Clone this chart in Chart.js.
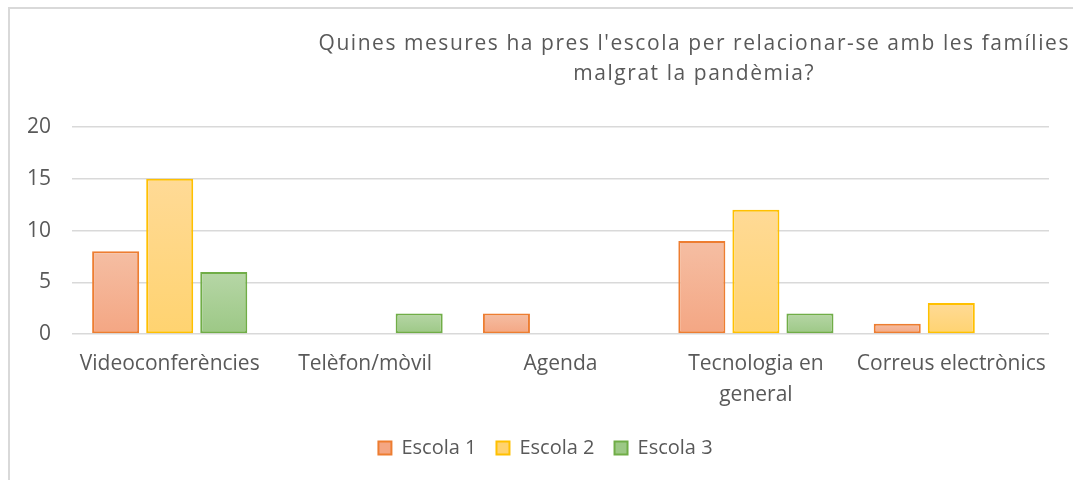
<!DOCTYPE html>
<html>
<head>
<meta charset="utf-8">
<script src="https://cdn.jsdelivr.net/npm/chart.js@4.4.0/dist/chart.umd.min.js"></script>
<style>
  html, body { margin: 0; padding: 0; background: #fff; overflow: hidden; }
  #frame { position: absolute; left: 8px; top: 7px; width: 1100px; height: 500px; border: 2px solid #d9d9d9; box-sizing: border-box; }
  #wrap { position: absolute; left: 0; top: 0; width: 1073px; height: 480px; }
</style>
</head>
<body>
<div id="frame"></div>
<div id="wrap"><canvas id="chart"></canvas></div>
<script>
// Chart data
var categories = ['Videoconferències', 'Telèfon/mòvil', 'Agenda', ['Tecnologia en', 'general'], 'Correus electrònics'];
var escola1 = [8, 0, 2, 9, 1];
var escola2 = [15, 0, 0, 12, 3];
var escola3 = [6, 2, 0, 2, 0];
var yTicks = [0, 5, 10, 15, 20];
var titleLines = ["Quines mesures ha pres l'escola per relacionar-se amb les famílies", 'malgrat la pandèmia?'];

var textColor = '#595959';
var fontFamily = '"Open Sans", "DejaVu Sans", sans-serif';

// per bar gradient, lighter on top
function barGradient(topColor, bottomColor, fallback) {
    return function(ctx) {
        var chart = ctx.chart;
        if (!chart.chartArea || ctx.raw == null) return fallback;
        var y = chart.scales.y;
        var top = y.getPixelForValue(ctx.raw);
        var bottom = y.getPixelForValue(0);
        if (!isFinite(top) || top === bottom) return fallback;
        var g = chart.ctx.createLinearGradient(0, top, 0, bottom);
        g.addColorStop(0, topColor);
        g.addColorStop(1, bottomColor);
        return g;
    };
}

// title drawn off-centre like the original
var titlePlugin = {
    id: 'offTitle',
    afterDraw: function(chart) {
        var c = chart.ctx;
        c.save();
        c.font = '21px ' + fontFamily;
        c.letterSpacing = '1.55px';
        c.fillStyle = textColor;
        c.textAlign = 'center';
        c.textBaseline = 'middle';
        var cx = chart.width * 0.647;
        c.fillText(titleLines[0], cx, 44);
        c.fillText(titleLines[1], cx, 74);
        c.restore();
    }
};

// nudge the legend a bit right and up, the original is not centred on the canvas
var legendShift = {
    id: 'legendShift',
    afterLayout: function(chart) {
        var lg = chart.legend;
        if (!lg) return;
        lg.left += 21; lg.right += 21;
        lg.top -= 7; lg.bottom -= 7;
    }
};

var ctx = document.getElementById('chart').getContext('2d');
new Chart(ctx, {
    type: 'bar',
    data: {
        labels: categories,
        datasets: [
            { label: 'Escola 1', data: escola1, borderColor: '#ED7D31', backgroundColor: barGradient('#F5BEA3', '#F4A683', '#F5B293') },
            { label: 'Escola 2', data: escola2, borderColor: '#FFC000', backgroundColor: barGradient('#FFDA96', '#FFD370', '#FFD783') },
            { label: 'Escola 3', data: escola3, borderColor: '#70AD47', backgroundColor: barGradient('#B6D6A6', '#9CC885', '#A9CF96') }
        ]
    },
    options: {
        responsive: true,
        maintainAspectRatio: false,
        animation: false,
        datasets: {
            bar: {
                borderWidth: 2,
                borderSkipped: false,
                categoryPercentage: 0.83,
                barPercentage: 0.87
            }
        },
        layout: { padding: { top: 127, right: 24, left: 0, bottom: 5 } },
        scales: {
            x: {
                grid: { display: false, drawTicks: false },
                border: { display: false },
                ticks: { color: textColor, font: { family: fontFamily, size: 21, lineHeight: 1.45 }, maxRotation: 0, autoSkip: false, padding: 15 }
            },
            y: {
                min: 0,
                max: 20,
                afterFit: function(scale) { scale.width = 72; },
                afterBuildTicks: function(scale) { scale.ticks = yTicks.map(function(v) { return { value: v }; }); },
                grid: { color: '#d9d9d9', lineWidth: 1.5, drawTicks: false },
                border: { display: false },
                ticks: { color: textColor, font: { family: fontFamily, size: 21 }, padding: 21 }
            }
        },
        plugins: {
            title: { display: false },
            tooltip: { enabled: false },
            legend: {
                position: 'bottom',
                labels: {
                    color: textColor,
                    font: { family: fontFamily, size: 20 },
                    boxWidth: 13,
                    boxHeight: 13,
                    padding: 20
                }
            }
        }
    },
    plugins: [titlePlugin, legendShift]
});
</script>
</body>
</html>
